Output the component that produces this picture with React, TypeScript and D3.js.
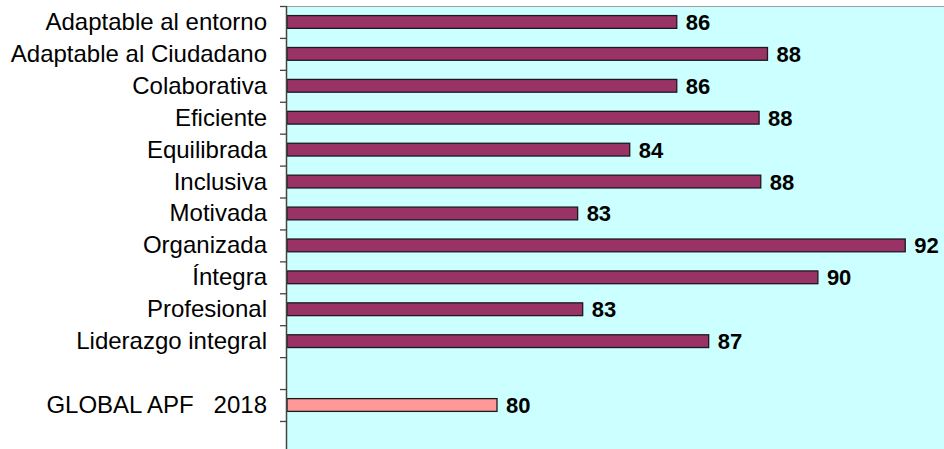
import React, { useEffect, useRef } from 'react'
import * as d3 from 'd3'

// categories top to bottom ('' rows are empty slots on the axis)
const categories = [
  'Adaptable al entorno',
  'Adaptable al Ciudadano',
  'Colaborativa',
  'Eficiente',
  'Equilibrada',
  'Inclusiva',
  'Motivada',
  'Organizada',
  'Íntegra',
  'Profesional',
  'Liderazgo integral',
  '',
  'GLOBAL APF   2018',
  ' ',
]

// values (labels show them rounded)
const values = [85.6, 88.3, 85.6, 88.05, 84.2, 88.1, 82.65, 92.4, 89.8, 82.8, 86.55, null, 80.25, null]

const isGlobal = [false, false, false, false, false, false, false, false, false, false, false, false, true, false]

const xDomain = [74, 94]

const W = 944
const H = 449

export default function App() {
  const ref = useRef<SVGSVGElement>(null)

  useEffect(() => {
    const svg = d3.select(ref.current)
    svg.selectAll('*').remove()

    const left = 287
    const top = 6
    const step = 31.92

    const x = d3.scaleLinear().domain(xDomain).range([left, left + 20 * 33.6])
    const y = d3.scaleBand<string>()
      .domain(categories)
      .range([top, top + step * categories.length])
      .paddingInner(0.6)
      .paddingOuter(0.3)

    // plot background
    svg.append('rect')
      .attr('x', left).attr('y', top)
      .attr('width', W - left).attr('height', H - top)
      .attr('fill', '#ccffff')

    // top border
    svg.append('line')
      .attr('x1', left).attr('x2', W)
      .attr('y1', top + 0.5).attr('y2', top + 0.5)
      .attr('stroke', '#a0a0a0').attr('stroke-width', 1)

    const rows = categories.map((c, i) => ({ c, v: values[i], g: isGlobal[i] }))

    // bars
    svg.append('g')
      .selectAll('rect')
      .data(rows.filter(d => d.v !== null))
      .enter()
      .append('rect')
      .attr('x', left)
      .attr('y', d => y(d.c)!)
      .attr('width', d => x(d.v as number) - left)
      .attr('height', y.bandwidth())
      .attr('fill', d => d.g ? '#ff9999' : '#993366')
      .attr('stroke', '#1a1a1a')
      .attr('stroke-width', 1.3)

    // value labels
    svg.append('g')
      .selectAll('text')
      .data(rows.filter(d => d.v !== null))
      .enter()
      .append('text')
      .attr('x', d => x(d.v as number) + 9)
      .attr('y', d => y(d.c)! + y.bandwidth() / 2 + 8)
      .attr('font-family', '"Liberation Sans", Arial, sans-serif')
      .attr('font-weight', 'bold')
      .attr('font-size', 22)
      .attr('fill', '#000')
      .text(d => d3.format('.0f')(d.v as number))

    // category axis
    const axis = svg.append('g')
    axis.append('line')
      .attr('x1', left - 0.5).attr('x2', left - 0.5)
      .attr('y1', top).attr('y2', H)
      .attr('stroke', '#444').attr('stroke-width', 1.5)

    axis.selectAll('line.tick')
      .data(d3.range(categories.length + 1))
      .enter()
      .append('line')
      .attr('class', 'tick')
      .attr('x1', left - 7).attr('x2', left)
      .attr('y1', i => top + i * step + 0.5)
      .attr('y2', i => top + i * step + 0.5)
      .attr('stroke', '#444').attr('stroke-width', 1.3)

    axis.selectAll('text')
      .data(categories.filter(c => c.trim() !== ''))
      .enter()
      .append('text')
      .attr('x', 267)
      .attr('y', d => y(d)! + y.bandwidth() / 2 + 8)
      .attr('text-anchor', 'end')
      .attr('font-family', '"Liberation Sans", Arial, sans-serif')
      .attr('font-size', 24)
      .attr('fill', '#000')
      .style('white-space', 'pre')
      .text(d => d)
  }, [])

  return (
    <svg
      ref={ref}
      width={W}
      height={H}
      style={{ position: 'absolute', left: 0, top: 0, background: '#fff' }}
    />
  )
}
